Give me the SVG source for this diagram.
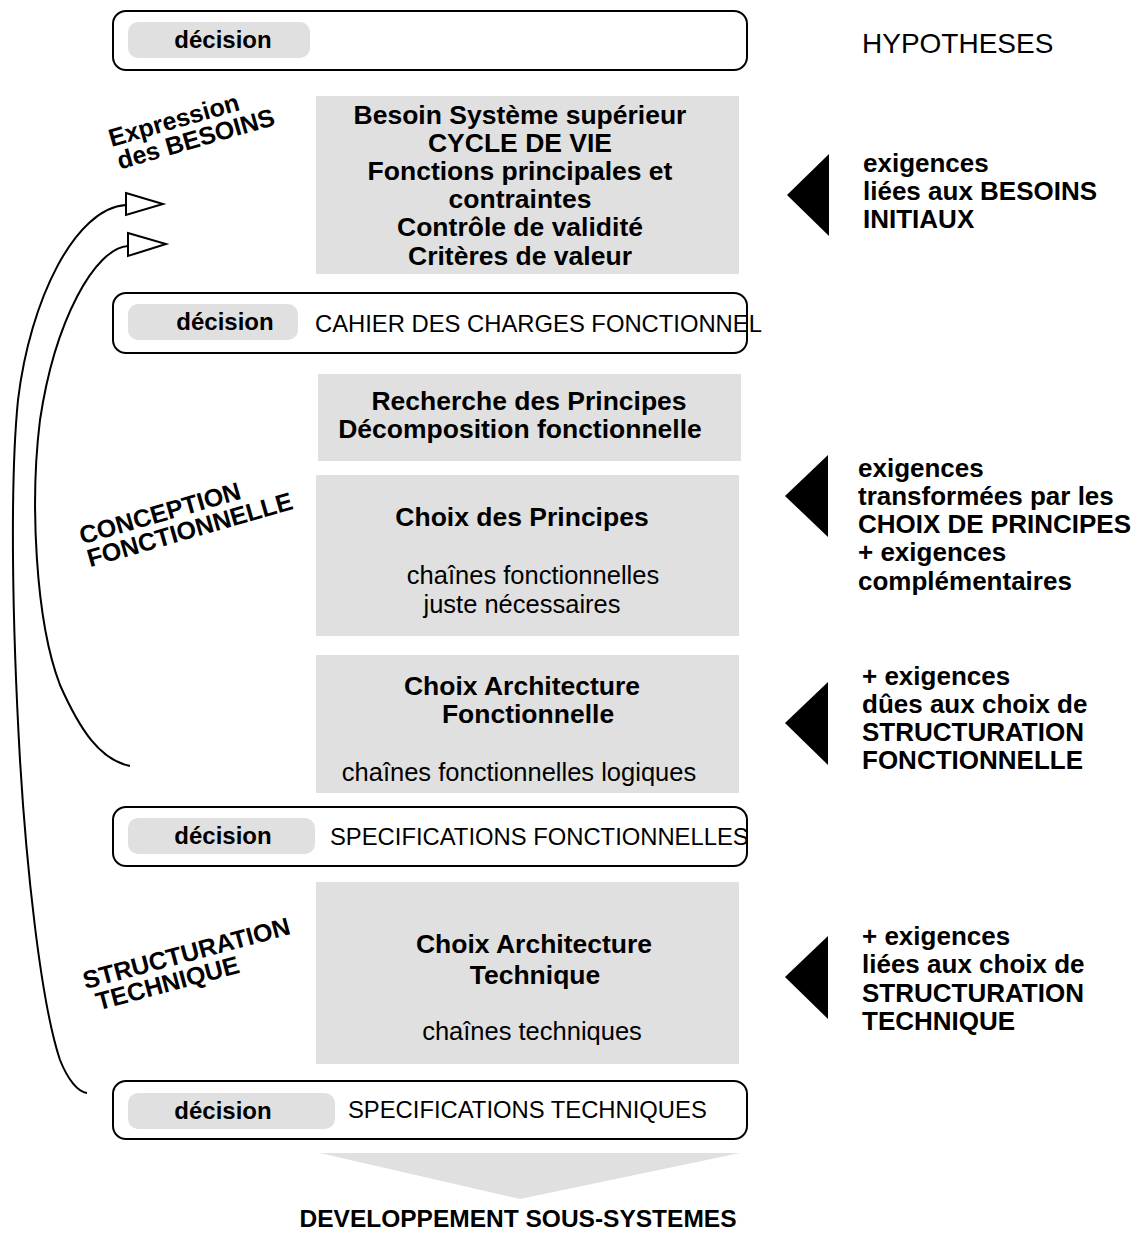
<svg xmlns="http://www.w3.org/2000/svg" width="1141" height="1236" viewBox="0 0 1141 1236">
<style>
text{font-family:"Liberation Sans",Arial,sans-serif;fill:#000}
.g{font-size:26.5px;font-weight:bold;text-anchor:middle}
.n{font-size:25.5px;text-anchor:middle}
.r{font-size:26px;font-weight:bold}
.d{font-size:24px;font-weight:bold;text-anchor:middle}
.l{font-size:23.8px}
.rot{font-size:25px;font-weight:bold;text-anchor:middle}
.box{fill:#fff;stroke:#000;stroke-width:2}
.pill{fill:#e0e0e0}
.grey{fill:#e0e0e0}
.tri{fill:#000}
.cur{fill:none;stroke:#000;stroke-width:2}
.oh{fill:#fff;stroke:#000;stroke-width:2;stroke-linejoin:miter}
</style>
<rect width="1141" height="1236" fill="#fff"/>

<g id="connectors">
<path class="cur" d="M126,205 C 75,208 30,300 18,400 C 10,480 12,620 20,760 C 26,860 40,1000 60,1060 C 68,1080 78,1092 87,1093"/>
<polygon class="oh" points="126,193 163,204 126,215"/>
<path class="cur" d="M128,246 C 95,248 55,320 40,420 C 30,500 35,620 60,685 C 80,730 100,760 130,766"/>
<polygon class="oh" points="128,233 166,244 128,256"/>
</g>

<g id="decision1">
<rect class="box" x="113" y="11" width="634" height="59" rx="13"/>
<rect class="pill" x="128" y="22" width="182" height="36" rx="10"/>
<text class="d" x="223" y="48">décision</text>
</g>
<g id="hypotheses"><text x="862" y="53" style="font-size:28px">HYPOTHESES</text></g>

<g id="besoins">
<rect class="grey" x="316" y="96" width="423" height="178"/>
<text class="g" x="520" y="124">Besoin Système supérieur</text>
<text class="g" x="520" y="152">CYCLE DE VIE</text>
<text class="g" x="520" y="180">Fonctions principales et</text>
<text class="g" x="520" y="208">contraintes</text>
<text class="g" x="520" y="236">Contrôle de validité</text>
<text class="g" x="520" y="265">Critères de valeur</text>
</g>

<g id="decision2">
<rect class="box" x="113" y="293" width="634" height="60" rx="13"/>
<rect class="pill" x="128" y="304" width="170" height="36" rx="10"/>
<text class="d" x="225" y="330">décision</text>
<text class="l" x="315" y="332">CAHIER DES CHARGES FONCTIONNEL</text>
</g>

<g id="recherche">
<rect class="grey" x="318" y="374" width="423" height="87"/>
<text class="g" x="529" y="410">Recherche des Principes</text>
<text class="g" x="520" y="438">Décomposition fonctionnelle</text>
</g>

<g id="choixPrincipes">
<rect class="grey" x="316" y="475" width="423" height="161"/>
<text class="g" x="522" y="526">Choix des Principes</text>
<text class="n" x="533" y="584">chaînes fonctionnelles</text>
<text class="n" x="522" y="613">juste nécessaires</text>
</g>

<g id="choixArchiF">
<rect class="grey" x="316" y="655" width="423" height="138"/>
<text class="g" x="522" y="695">Choix Architecture</text>
<text class="g" x="528" y="723">Fonctionnelle</text>
<text class="n" x="519" y="781">chaînes fonctionnelles logiques</text>
</g>

<g id="decision3">
<rect class="box" x="113" y="807" width="634" height="59" rx="13"/>
<rect class="pill" x="128" y="818" width="187" height="36" rx="10"/>
<text class="d" x="223" y="844">décision</text>
<text class="l" x="330" y="845">SPECIFICATIONS FONCTIONNELLES</text>
</g>

<g id="choixArchiT">
<rect class="grey" x="316" y="882" width="423" height="182"/>
<text class="g" x="534" y="953">Choix Architecture</text>
<text class="g" x="535" y="984">Technique</text>
<text class="n" x="532" y="1040">chaînes techniques</text>
</g>

<g id="decision4">
<rect class="box" x="113" y="1081" width="634" height="58" rx="13"/>
<rect class="pill" x="128" y="1093" width="207" height="36" rx="10"/>
<text class="d" x="223" y="1119">décision</text>
<text class="l" x="348" y="1118">SPECIFICATIONS TECHNIQUES</text>
</g>

<g id="developpement">
<polygon class="grey" points="320,1153 740,1153 520,1199"/>
<text class="d" x="518" y="1227" style="font-size:24.5px">DEVELOPPEMENT SOUS-SYSTEMES</text>
</g>

<g id="labelBesoins" transform="translate(185,130) rotate(-16)">
<text class="rot" x="-8" y="-4">Expression</text>
<text class="rot" x="8" y="20">des BESOINS</text>
</g>
<g id="labelConception" transform="translate(175,522) rotate(-16)">
<text class="rot" x="-12" y="-4">CONCEPTION</text>
<text class="rot" x="12" y="20">FONCTIONNELLE</text>
</g>
<g id="labelStructuration" transform="translate(180,968) rotate(-15)">
<text class="rot" x="10" y="-4">STRUCTURATION</text>
<text class="rot" x="-16" y="20">TECHNIQUE</text>
</g>

<g id="req1">
<polygon class="tri" points="787,195 829,154 829,236"/>
<text class="r" x="863" y="172">exigences</text>
<text class="r" x="863" y="200">liées aux BESOINS</text>
<text class="r" x="863" y="228">INITIAUX</text>
</g>
<g id="req2">
<polygon class="tri" points="785,496 828,455 828,537"/>
<text class="r" x="858" y="477">exigences</text>
<text class="r" x="858" y="505">transformées par les</text>
<text class="r" x="858" y="533">CHOIX DE PRINCIPES</text>
<text class="r" x="858" y="561">+ exigences</text>
<text class="r" x="858" y="590">complémentaires</text>
</g>
<g id="req3">
<polygon class="tri" points="785,723 828,682 828,765"/>
<text class="r" x="862" y="685">+ exigences</text>
<text class="r" x="862" y="713">dûes aux choix de</text>
<text class="r" x="862" y="741">STRUCTURATION</text>
<text class="r" x="862" y="769">FONCTIONNELLE</text>
</g>
<g id="req4">
<polygon class="tri" points="785,977 828,936 828,1019"/>
<text class="r" x="862" y="945">+ exigences</text>
<text class="r" x="862" y="973">liées aux choix de</text>
<text class="r" x="862" y="1002">STRUCTURATION</text>
<text class="r" x="862" y="1030">TECHNIQUE</text>
</g>
</svg>
